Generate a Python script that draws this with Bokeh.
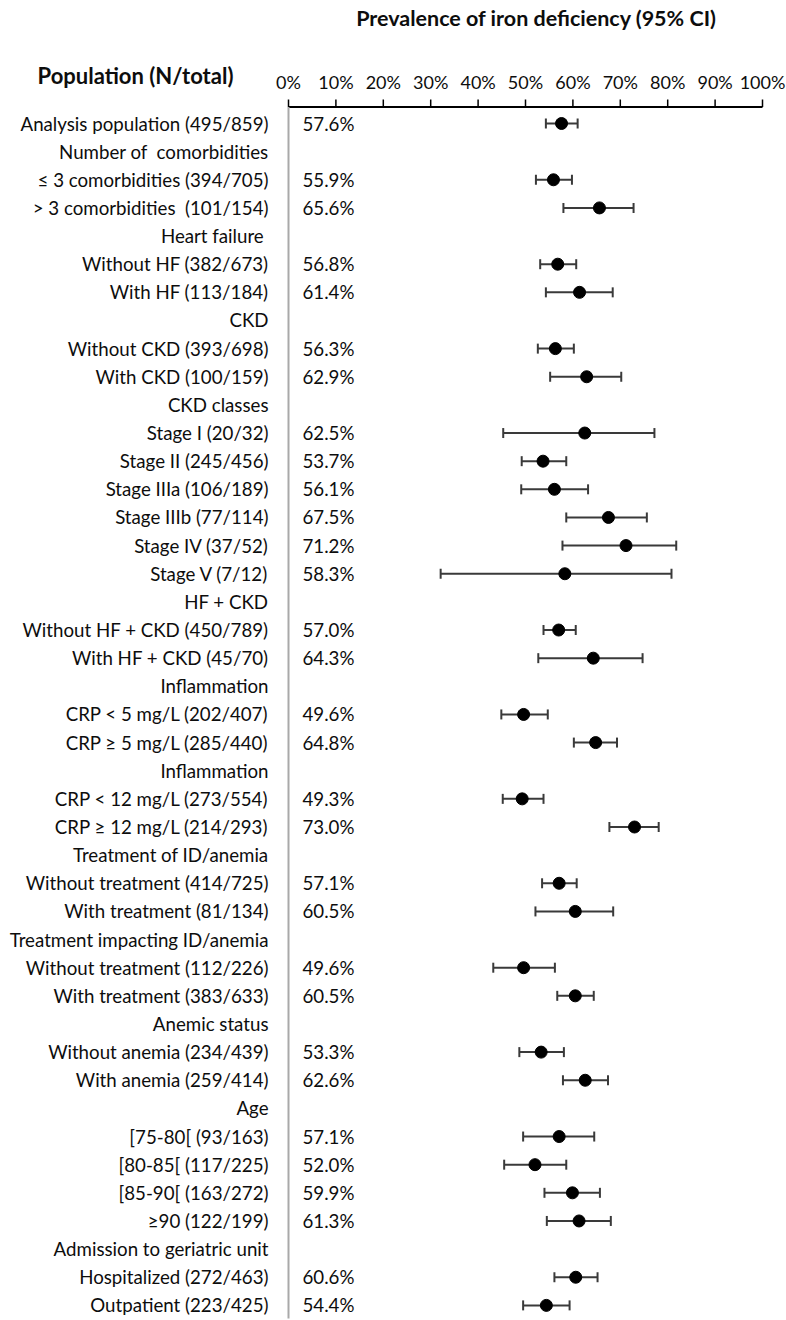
from bokeh.plotting import figure
from bokeh.models import ColumnDataSource, Range1d, Whisker, TeeHead
from bokeh.embed import file_html
from bokeh.resources import INLINE
from bokeh.core.properties import value

NBSP = "\u00a0"

labels = [
    "Analysis population (495/859)",
    "Number of" + NBSP + " comorbidities",
    "\u2264 3 comorbidities (394/705)",
    "> 3 comorbidities" + NBSP + " (101/154)",
    "Heart failure" + NBSP,
    "Without HF (382/673)",
    "With HF (113/184)",
    "CKD",
    "Without CKD (393/698)",
    "With CKD (100/159)",
    "CKD classes",
    "Stage I (20/32)",
    "Stage II (245/456)",
    "Stage IIIa (106/189)",
    "Stage IIIb (77/114)",
    "Stage IV (37/52)",
    "Stage V (7/12)",
    "HF + CKD",
    "Without HF + CKD (450/789)",
    "With HF + CKD (45/70)",
    "Inflammation",
    "CRP < 5 mg/L (202/407)",
    "CRP \u2265 5 mg/L (285/440)",
    "Inflammation",
    "CRP < 12 mg/L (273/554)",
    "CRP \u2265 12 mg/L (214/293)",
    "Treatment of ID/anemia",
    "Without treatment (414/725)",
    "With treatment (81/134)",
    "Treatment impacting ID/anemia",
    "Without treatment (112/226)",
    "With treatment (383/633)",
    "Anemic status",
    "Without anemia (234/439)",
    "With anemia (259/414)",
    "Age",
    "[75-80[ (93/163)",
    "[80-85[ (117/225)",
    "[85-90[ (163/272)",
    "\u226590 (122/199)",
    "Admission to geriatric unit",
    "Hospitalized (272/463)",
    "Outpatient (223/425)",
]

pct = [57.6, None, 55.9, 65.6, None, 56.8, 61.4, None, 56.3, 62.9, None,
       62.5, 53.7, 56.1, 67.5, 71.2, 58.3, None, 57.0, 64.3, None,
       49.6, 64.8, None, 49.3, 73.0, None, 57.1, 60.5, None, 49.6, 60.5, None,
       53.3, 62.6, None, 57.1, 52.0, 59.9, 61.3, None, 60.6, 54.4]

ci_lo = [54.3, None, 52.2, 58.0, None, 53.1, 54.3, None, 52.6, 55.2, None,
         45.3, 49.2, 49.1, 58.6, 57.8, 32.1, None, 53.8, 52.7, None,
         44.9, 60.2, None, 45.2, 67.7, None, 53.5, 52.1, None, 43.2, 56.7, None,
         48.7, 57.9, None, 49.5, 45.5, 54.0, 54.5, None, 56.1, 49.5]

ci_hi = [61.0, None, 59.8, 72.8, None, 60.7, 68.4, None, 60.2, 70.2, None,
         77.2, 58.6, 63.2, 75.6, 81.8, 80.8, None, 60.6, 74.7, None,
         54.7, 69.3, None, 53.8, 78.1, None, 60.8, 68.5, None, 56.2, 64.4, None,
         58.1, 67.4, None, 64.5, 58.6, 65.7, 68.0, None, 65.2, 59.3]

x_ticks = [0, 10, 20, 30, 40, 50, 60, 70, 80, 90, 100]
x_tick_labels = [f"{t}%" for t in x_ticks]

title_text = "Prevalence of iron deficiency (95% CI)"
header_text = "Population (N/total)"

FONT = value("Lato")
TXT = "#0d0d0d"
BAR = "#3a3a3a"

# layout constants (screen mapping: 0% at 288px, 100% at 762px; rows 28.14px apart)
PX_PER_PCT = 4.74
ROW_PX = 28.14
ROW0_PX = 123.0
W, H = 786, 1320

def xr(px):
    return (px - 288.0) / PX_PER_PCT

def yr(py):
    return (py - ROW0_PX) / ROW_PX

p = figure(width=W, height=H, output_backend="svg", toolbar_location=None,
           x_range=Range1d(xr(0), xr(W)), y_range=Range1d(yr(H), yr(0)),
           x_axis_location=None, y_axis_location=None,
           min_border=0, outline_line_color=None)
p.grid.visible = False
p.background_fill_color = "white"
p.border_fill_color = "white"

AXIS_Y = yr(106.5)
TICK_TOP = yr(99)

# top axis line, ticks and tick labels
p.segment(x0=[x_ticks[0]], y0=[AXIS_Y], x1=[x_ticks[-1]], y1=[AXIS_Y],
          line_color="black", line_width=2)
p.segment(x0=x_ticks, y0=[AXIS_Y] * len(x_ticks), x1=x_ticks,
          y1=[TICK_TOP] * len(x_ticks), line_color="black", line_width=1.5)
p.text(x=x_ticks, y=[yr(81)] * len(x_ticks), text=x_tick_labels,
       text_font=FONT, text_font_size="18px", text_color=TXT,
       text_align="center", text_baseline="middle")

# vertical grey axis
p.segment(x0=[x_ticks[0]], y0=[AXIS_Y], x1=[x_ticks[0]], y1=[yr(1318)],
          line_color="#a9a9a9", line_width=2)

# row labels
p.text(x=[xr(268)] * len(labels), y=list(range(len(labels))), text=labels,
       text_font=FONT, text_font_size="18.7px", text_color=TXT,
       text_align="right", text_baseline="middle")

rows = [i for i, v in enumerate(pct) if v is not None]
src = ColumnDataSource(dict(
    y=rows,
    pct=[pct[i] for i in rows],
    lo=[ci_lo[i] for i in rows],
    hi=[ci_hi[i] for i in rows],
    txt=[f"{pct[i]:.1f}%" for i in rows],
))

w = Whisker(source=src, base="y", lower="lo", upper="hi", dimension="width",
            line_color=BAR, line_width=2,
            upper_head=TeeHead(size=10, line_color=BAR, line_width=2),
            lower_head=TeeHead(size=10, line_color=BAR, line_width=2))
p.add_layout(w)

p.scatter(x="pct", y="y", source=src, size=12, color="black")

p.text(x=xr(302), y="y", text="txt", source=src, text_font=FONT,
       text_font_size="18.7px", text_color=TXT, text_align="left",
       text_baseline="middle")

# headings
p.text(x=[xr(536)], y=[yr(17)], text=[title_text], text_font=FONT,
       text_font_size="21.5px", text_font_style="bold", text_color=TXT,
       text_align="center", text_baseline="middle")
p.text(x=[xr(135)], y=[yr(75)], text=[header_text], text_font=FONT,
       text_font_size="22px", text_font_style="bold", text_color=TXT,
       text_align="center", text_baseline="middle")

open("out.html", "w").write(file_html(p, INLINE))
